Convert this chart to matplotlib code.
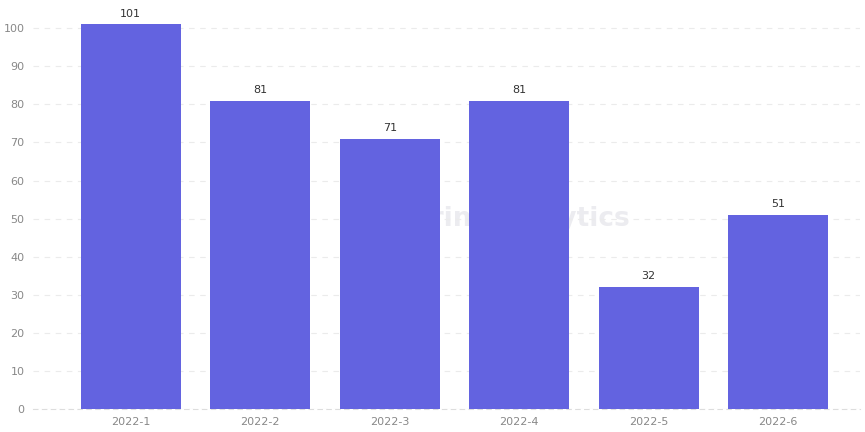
import matplotlib.pyplot as plt

months = ['2022-1', '2022-2', '2022-3', '2022-4', '2022-5', '2022-6']
counts = [101, 81, 71, 81, 32, 51]

bar_color = '#6363e0'

fig = plt.figure(figsize=(8.65, 4.32), dpi=100)
ax = fig.add_axes([0.038, 0.053, 0.956, 0.926])

x = range(len(months))
bars = ax.bar(x, counts, width=0.77, color=bar_color, zorder=3)
for xi, v in zip(x, counts):
    ax.text(xi, v + 1.5, str(v), ha='center', va='bottom', fontsize=8, color='#333333')

ax.set_xticks(list(x))
ax.set_xticklabels(months)
ax.set_xlim(-0.755, 5.63)
ax.set_ylim(0, 105)
ax.set_yticks(range(0, 101, 10))

ax.grid(axis='y', linestyle=(0, (5, 5)), color='#ebebeb', linewidth=0.8, zorder=0)
for s in ['top', 'right', 'left']:
    ax.spines[s].set_visible(False)
ax.spines['bottom'].set_color('#dddddd')
ax.spines['bottom'].set_linestyle((0, (4, 4)))
ax.tick_params(axis='both', length=0, labelsize=8, colors='#888888')
ax.tick_params(axis='x', pad=6)
ax.tick_params(axis='y', pad=6)

# watermark, behind the bars
ax.text(0.55, 0.475, 'Footprint Analytics', transform=ax.transAxes, fontsize=19,
        fontweight='bold', color='#ececf0', ha='center', va='center', zorder=1)

fig.savefig('out.png', dpi=100)
